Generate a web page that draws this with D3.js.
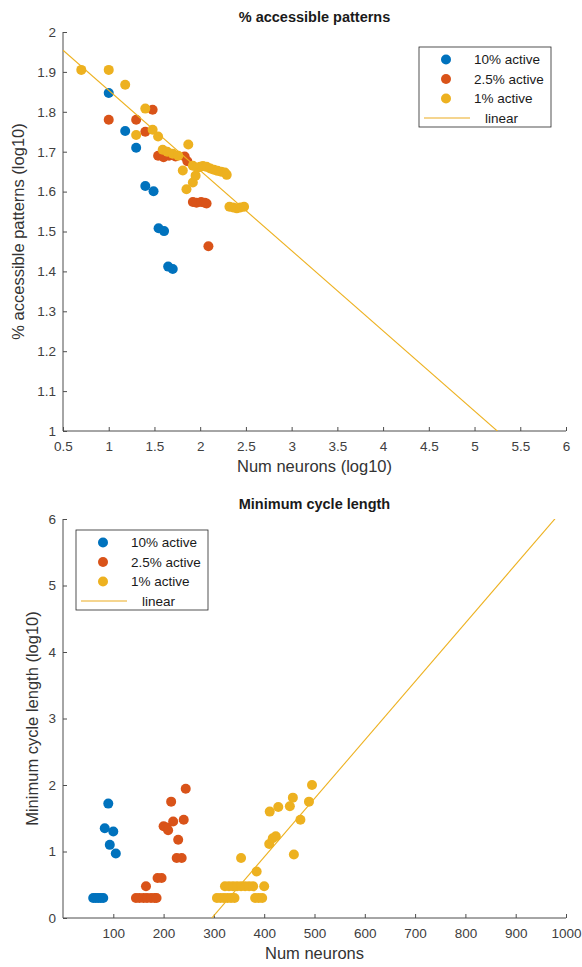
<!DOCTYPE html>
<html>
<head>
    <meta charset="utf-8">
    <title>Accessible patterns and cycle length</title>
    <script src="https://d3js.org/d3.v7.min.js"></script>
    <style>
        body { margin: 0; background: #fff; }
        svg { font-family: "Liberation Sans", Arial, sans-serif; }
        .axis path, .axis line { stroke: #4d4d4d; }
        .axis text { fill: #404040; font-size: 13.5px; }
    </style>
</head>
<body>
    <div id="container"></div>
    <script>

        //------------------------1. DATA------------------------//
        var seriesNames = ["10% active", "2.5% active", "1% active"],
            fitName = "linear",
            colors = ["#0072BD", "#D95319", "#EDB120"]

        // top panel: log10 values
        var topBlueX = [1.0, 1.18, 1.30, 1.40, 1.49, 1.545, 1.605, 1.65, 1.70]
        var topBlueY = [1.847, 1.752, 1.710, 1.614, 1.601, 1.508, 1.501, 1.412, 1.406]
        var topRedX = [1.0, 1.30, 1.40, 1.48, 1.54, 1.60, 1.66, 1.73, 1.83, 1.86, 1.92, 1.96, 2.01, 2.05, 2.07, 2.09]
        var topRedY = [1.780, 1.780, 1.750, 1.805, 1.690, 1.686, 1.690, 1.688, 1.688, 1.676, 1.574, 1.572, 1.574, 1.572, 1.570, 1.463]
        var topYellowX = [0.70, 1.0, 1.18, 1.30, 1.40, 1.48, 1.54, 1.59, 1.64, 1.70, 1.76, 1.81, 1.85, 1.87, 1.92, 1.92,
            1.95, 1.97, 2.00, 2.03, 2.07, 2.11, 2.15, 2.19, 2.23, 2.27, 2.29, 2.32, 2.36, 2.40, 2.44, 2.48]
        var topYellowY = [1.905, 1.905, 1.868, 1.742, 1.808, 1.755, 1.738, 1.705, 1.700, 1.695, 1.690, 1.653, 1.606, 1.718, 1.623, 1.665,
            1.640, 1.660, 1.662, 1.664, 1.662, 1.658, 1.655, 1.652, 1.650, 1.648, 1.642, 1.562, 1.560, 1.558, 1.560, 1.562]
        var topFit = { slope: -0.201, intercept: 2.055 }
        var topXTicks = [0.5, 1, 1.5, 2, 2.5, 3, 3.5, 4, 4.5, 5, 5.5, 6]
        var topYTicks = ["1", "1.1", "1.2", "1.3", "1.4", "1.5", "1.6", "1.7", "1.8", "1.9", "2"]

        // bottom panel
        var botBlueX = [60, 65, 70, 75, 80, 90, 83, 100, 93, 105]
        var botBlueY = [0.301, 0.301, 0.301, 0.301, 0.301, 1.72, 1.35, 1.30, 1.10, 0.97]
        var botRedX = [145, 152, 160, 167, 175, 182, 186, 165, 188, 196, 200, 206, 209, 215, 219, 229, 226, 236, 240, 244]
        var botRedY = [0.301, 0.301, 0.301, 0.301, 0.301, 0.301, 0.301, 0.477, 0.602, 0.602, 1.38, 1.36, 1.32, 1.75, 1.45, 1.176, 0.903, 0.903, 1.477, 1.944]
        var botYellowX = [306, 313, 320, 327, 334, 341, 382, 389, 396, 322, 330, 338, 346, 354, 362, 370, 378, 400,
            354, 385, 410, 417, 423, 411, 428, 451, 457, 459, 472, 489, 495]
        var botYellowY = [0.301, 0.301, 0.301, 0.301, 0.301, 0.301, 0.301, 0.301, 0.301, 0.477, 0.477, 0.477, 0.477, 0.477, 0.477, 0.477, 0.477, 0.477,
            0.903, 0.699, 1.114, 1.20, 1.23, 1.60, 1.67, 1.68, 1.81, 0.954, 1.477, 1.75, 2.0]
        var botFit = { slope: 0.0088, intercept: -2.604 }
        var botXTicks = [100, 200, 300, 400, 500, 600, 700, 800, 900, 1000]
        var botYTicks = [0, 1, 2, 3, 4, 5, 6]

        //------------------------2. DRAW------------------------//
        var svg = d3.select("#container").append("svg")
            .attr("width", 582)
            .attr("height", 967)

        function zip(xs, ys) {
            return xs.map(function (x, i) { return { x: x, y: ys[i] }; })
        }

        function drawPanel(p) {
            var xScale = d3.scaleLinear().domain(p.xDomain).range([63, 566])
            var yScale = d3.scaleLinear().domain(p.yDomain).range([p.bottom, p.top])
            var g = svg.append("g")

            // title
            g.append("text")
                .attr("x", 314.5).attr("y", p.top - 10)
                .attr("text-anchor", "middle")
                .style("font-size", "14.5px").style("font-weight", "bold").style("fill", "#1a1a1a")
                .text(p.title)

            // axes
            g.append("g")
                .attr("class", "axis")
                .attr("transform", "translate(0," + p.bottom + ")")
                .call(d3.axisBottom(xScale).tickValues(p.xTicks).tickSize(-4).tickPadding(10).tickFormat(String))
                .call(a => a.select(".domain").attr("d", "M63,0H566"))

            g.append("g")
                .attr("class", "axis")
                .attr("transform", "translate(63,0)")
                .call(d3.axisLeft(yScale).tickValues(p.yTicks.map(Number)).tickSize(-4).tickPadding(7)
                    .tickFormat(function (d, i) { return p.yTicks[i]; }))
                .call(a => a.select(".domain").attr("d", "M0," + p.top + "V" + p.bottom))

            g.append("text")
                .attr("x", 314.5).attr("y", p.bottom + 41)
                .attr("text-anchor", "middle")
                .style("font-size", "16.5px").style("fill", "#333")
                .text(p.xLabel)

            g.append("text")
                .attr("transform", "translate(" + p.yLabelX + "," + (p.top + p.bottom) / 2 + ") rotate(-90)")
                .attr("text-anchor", "middle")
                .style("font-size", "16.5px").style("fill", "#333")
                .text(p.yLabel)

            // points
            p.series.forEach(function (s, k) {
                g.append("g").selectAll("circle")
                    .data(s)
                    .join("circle")
                    .attr("cx", d => xScale(d.x))
                    .attr("cy", d => yScale(d.y))
                    .attr("r", 5)
                    .attr("fill", colors[k])
            })

            // linear fit, clipped to the axes
            var clipId = "clip" + p.top
            g.append("clipPath").attr("id", clipId)
                .append("rect")
                .attr("x", 63).attr("y", p.top)
                .attr("width", 503).attr("height", p.bottom - p.top)
            var fitData = p.xDomain.map(x => ({ x: x, y: p.fit.slope * x + p.fit.intercept }))
            g.append("path")
                .datum(fitData)
                .attr("clip-path", "url(#" + clipId + ")")
                .attr("d", d3.line().x(d => xScale(d.x)).y(d => yScale(d.y)))
                .attr("fill", "none")
                .attr("stroke", "#EDB120")
                .attr("stroke-width", 1.1)

            // legend
            var lg = g.append("g").attr("transform", "translate(" + p.legend[0] + "," + p.legend[1] + ")")
            lg.append("rect")
                .attr("width", 132).attr("height", 80)
                .attr("fill", "#fff").attr("stroke", "#262626").attr("stroke-width", 0.8)
            seriesNames.forEach(function (name, i) {
                lg.append("circle").attr("cx", 27).attr("cy", 12.5 + i * 19.5).attr("r", 5).attr("fill", colors[i])
                lg.append("text").attr("x", 55).attr("y", 12.5 + i * 19.5).attr("dy", "0.35em")
                    .style("font-size", "13.5px").style("fill", "#1a1a1a").text(name)
            })
            lg.append("line").attr("x1", 5).attr("x2", 51).attr("y1", 71).attr("y2", 71)
                .attr("stroke", "#F2C76A").attr("stroke-width", 1.5)
            lg.append("text").attr("x", 66).attr("y", 71).attr("dy", "0.35em")
                .style("font-size", "13.5px").style("fill", "#1a1a1a").text(fitName)
        }

        drawPanel({
            title: "% accessible patterns",
            xLabel: "Num neurons (log10)",
            yLabel: "% accessible patterns (log10)",
            yLabelX: 24,
            top: 32, bottom: 431,
            xDomain: [0.5, 6], yDomain: [1, 2],
            xTicks: topXTicks, yTicks: topYTicks,
            series: [zip(topBlueX, topBlueY), zip(topRedX, topRedY), zip(topYellowX, topYellowY)],
            fit: topFit,
            legend: [419, 47]
        })

        drawPanel({
            title: "Minimum cycle length",
            xLabel: "Num neurons",
            yLabel: "Minimum cycle length (log10)",
            yLabelX: 38,
            top: 519, bottom: 918,
            xDomain: [0, 1000], yDomain: [0, 6],
            xTicks: botXTicks, yTicks: botYTicks.map(String),
            series: [zip(botBlueX, botBlueY), zip(botRedX, botRedY), zip(botYellowX, botYellowY)],
            fit: botFit,
            legend: [76, 530]
        })
    </script>
</body>
</html>
